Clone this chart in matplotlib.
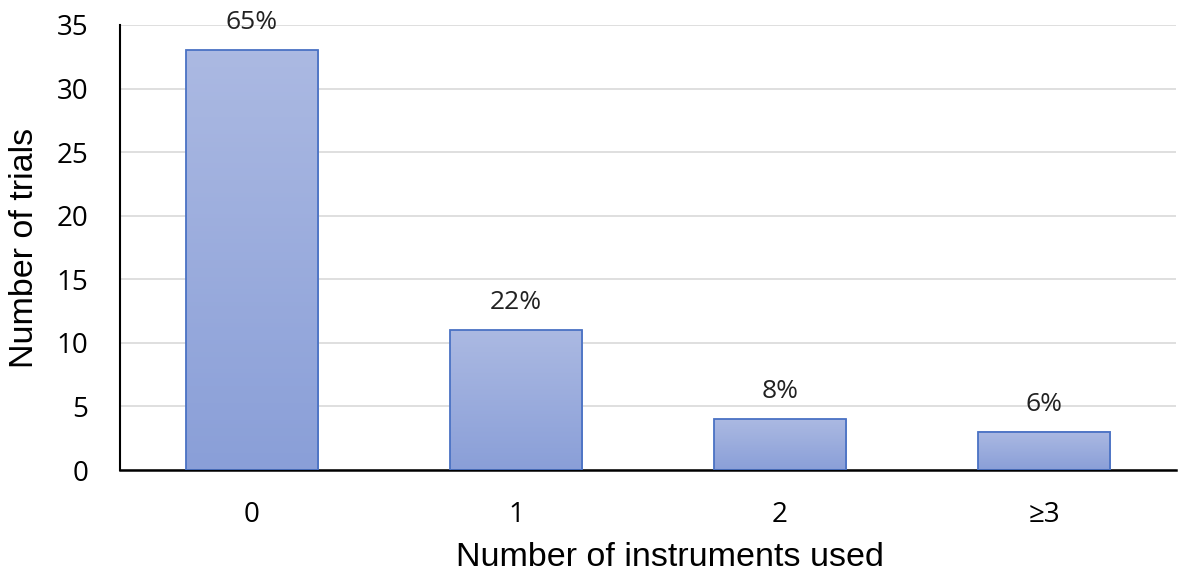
import numpy as np
import matplotlib.pyplot as plt
from matplotlib.colors import LinearSegmentedColormap

#----データ--------------------------------------------------------------
CATS=['0','1','2','≥3']
TRIALS=[33,11,4,3]
PCT=['65%','22%','8%','6%']

#----描画設定------------------------------------------------------------
plt.rcParams['font.family']=['Open Sans','DejaVu Sans']
GRAD=LinearSegmentedColormap.from_list('grad',['#8a9fd8','#abb9e2'])

fig=plt.figure(figsize=(11.81,5.77),dpi=100)
ax=fig.add_axes([0.1016,0.1854,0.8942,0.7713])

X=np.arange(len(CATS))
bars=ax.bar(X,TRIALS,width=0.5,color='none',edgecolor='#4a72c4',linewidth=1.3,zorder=3)
for b in bars:
  x0=b.get_x(); w=b.get_width(); h=b.get_height()
  ax.imshow(np.linspace(0,1,100).reshape(-1,1),extent=[x0,x0+w,0,h],origin='lower',
            cmap=GRAD,aspect='auto',zorder=2)

for xi,v,p in zip(X,TRIALS,PCT):
  ax.annotate(p,(xi,v),xytext=(0,11),textcoords='offset points',
              ha='center',va='bottom',fontsize=19,color='#222222')

ax.set_xlim(-0.5,3.5)
ax.set_ylim(0,35)
ax.set_yticks(np.arange(0,36,5))
ax.set_xticks(X)
ax.set_xticklabels(CATS)
ax.tick_params(length=0,labelsize=20,pad=22)
ax.tick_params(axis='y',pad=23)
ax.yaxis.grid(True,color='#d9d9d9',linewidth=1.2,zorder=0)
ax.set_axisbelow(True)
for s in ['top','right']:
  ax.spines[s].set_visible(False)
ax.spines['left'].set_linewidth(1.5)
ax.spines['bottom'].set_linewidth(1.8)
ax.set_xlabel('Number of instruments used',fontsize=24.5,family='Liberation Sans')
ax.xaxis.set_label_coords(0.521,-0.162)
ax.set_ylabel('Number of trials',fontsize=24.5,labelpad=12,family='Liberation Sans')

plt.savefig('out.png')
plt.close()
